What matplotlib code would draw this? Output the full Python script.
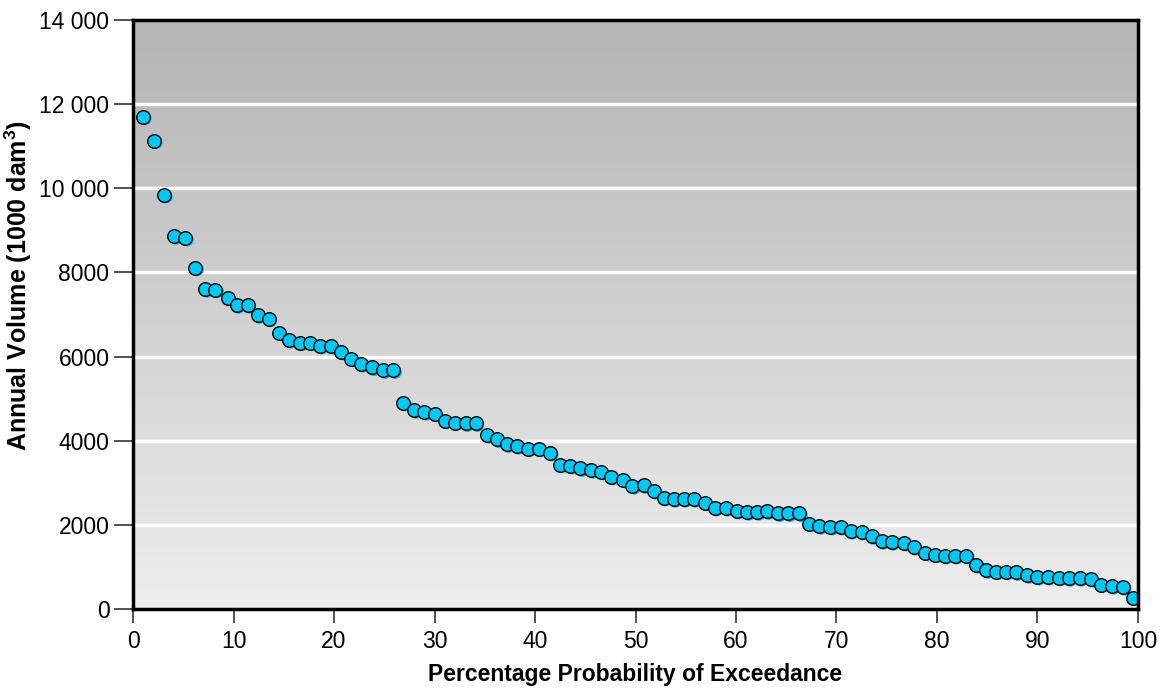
import numpy as np
import matplotlib
matplotlib.use("Agg")
from matplotlib import pyplot as plt
from matplotlib import transforms as mtransforms

plt.rcParams['font.family'] = ['Liberation Sans', 'DejaVu Sans']
plt.rcParams['mathtext.fontset'] = 'custom'
plt.rcParams['mathtext.rm'] = 'Liberation Sans'
plt.rcParams['mathtext.bf'] = 'Liberation Sans:bold'

## data
probExceed = [1.0, 2.1, 3.1, 4.1, 5.2, 6.2, 7.2, 8.2, 9.4, 10.3,
              11.4, 12.4, 13.5, 14.5, 15.5, 16.6, 17.6, 18.6, 19.7, 20.7,
              21.7, 22.7, 23.8, 24.9, 25.9, 26.9, 28.0, 29.0, 30.0, 31.0,
              32.0, 33.1, 34.1, 35.2, 36.2, 37.2, 38.2, 39.3, 40.4, 41.5,
              42.5, 43.5, 44.5, 45.6, 46.6, 47.6, 48.8, 49.7, 50.8, 51.8,
              52.8, 53.8, 54.8, 55.8, 56.9, 57.9, 59.0, 60.1, 61.1, 62.1,
              63.1, 64.2, 65.2, 66.3, 67.3, 68.3, 69.4, 70.4, 71.4, 72.5,
              73.5, 74.5, 75.5, 76.7, 77.7, 78.8, 79.8, 80.8, 81.8, 82.9,
              83.9, 84.9, 85.9, 86.9, 87.9, 89.0, 90.0, 91.0, 92.1, 93.1,
              94.2, 95.3, 96.3, 97.4, 98.5, 99.5]
annualVolume = [11700, 11130, 9840, 8860, 8820, 8110, 7600, 7590, 7400, 7220,
                7220, 6980, 6900, 6570, 6390, 6330, 6330, 6250, 6250, 6110,
                5950, 5820, 5740, 5670, 5670, 4900, 4720, 4680, 4640, 4470,
                4430, 4410, 4410, 4130, 4030, 3910, 3870, 3810, 3810, 3710,
                3430, 3400, 3340, 3300, 3260, 3140, 3070, 2920, 2940, 2800,
                2640, 2610, 2610, 2610, 2530, 2400, 2400, 2330, 2300, 2300,
                2320, 2270, 2270, 2270, 2030, 1970, 1950, 1950, 1850, 1830,
                1730, 1610, 1590, 1570, 1470, 1340, 1290, 1260, 1260, 1270,
                1040, 920, 890, 890, 870, 800, 760, 760, 740, 730,
                730, 710, 580, 540, 520, 270]

yTicks = [0, 2000, 4000, 6000, 8000, 10000, 12000, 14000]
yTickLabels = ['0', '2000', '4000', '6000', '8000', '10 000', '12 000', '14 000']
xTicks = [0, 10, 20, 30, 40, 50, 60, 70, 80, 90, 100]


## figure
fig = plt.figure(figsize=(11.65, 6.92), dpi=100)
ax = fig.add_axes([0.1142, 0.12, 0.8626, 0.8511])

# gradient background, darker at top
grad = np.linspace(0, 1, 256).reshape(-1, 1)
topC = np.array([180, 180, 180]) / 255.
botC = np.array([238, 238, 238]) / 255.
img = topC[None, None, :] * (1 - grad[:, :, None]) + botC[None, None, :] * grad[:, :, None]
ax.imshow(img, extent=[0, 100, 0, 14000], origin='upper', aspect='auto', zorder=0)
ax.set_xlim(0, 100)
ax.set_ylim(0, 14000)

# white grid lines
for yv in yTicks[1:-1]:
    ax.axhline(yv, color='white', linewidth=2.5, zorder=1)

# marker shadow, then markers
shadow = mtransforms.offset_copy(ax.transData, fig=fig, x=1.2, y=-1.2, units='points')
ax.scatter(probExceed, annualVolume, s=95, color='#00b4dc', edgecolor='none',
           transform=shadow, zorder=2)
ax.scatter(probExceed, annualVolume, s=95, color='#00c8f5', edgecolor='black',
           linewidth=1.0, zorder=3)

ax.set_yticks(yTicks)
ax.set_yticklabels(yTickLabels)
ax.set_xticks(xTicks)
ax.tick_params(axis='y', length=14, width=1.2, color='#333333', labelsize=16.5, pad=3)
ax.tick_params(axis='x', length=10, width=1.2, color='#333333', labelsize=16.5, pad=5)

for sp in ax.spines.values():
    sp.set_linewidth(2.5)
    sp.set_color('black')
    sp.set_zorder(5)

ax.set_xlabel('Percentage Probability of Exceedance', fontsize=16.5, fontweight='bold', labelpad=7)
ax.set_ylabel(r'Annual Volume (1000 dam$\mathbf{^3}$)', fontsize=18, fontweight='bold')
ax.yaxis.set_label_coords(-0.099, 0.55)

fig.savefig('out.png', dpi=100)
